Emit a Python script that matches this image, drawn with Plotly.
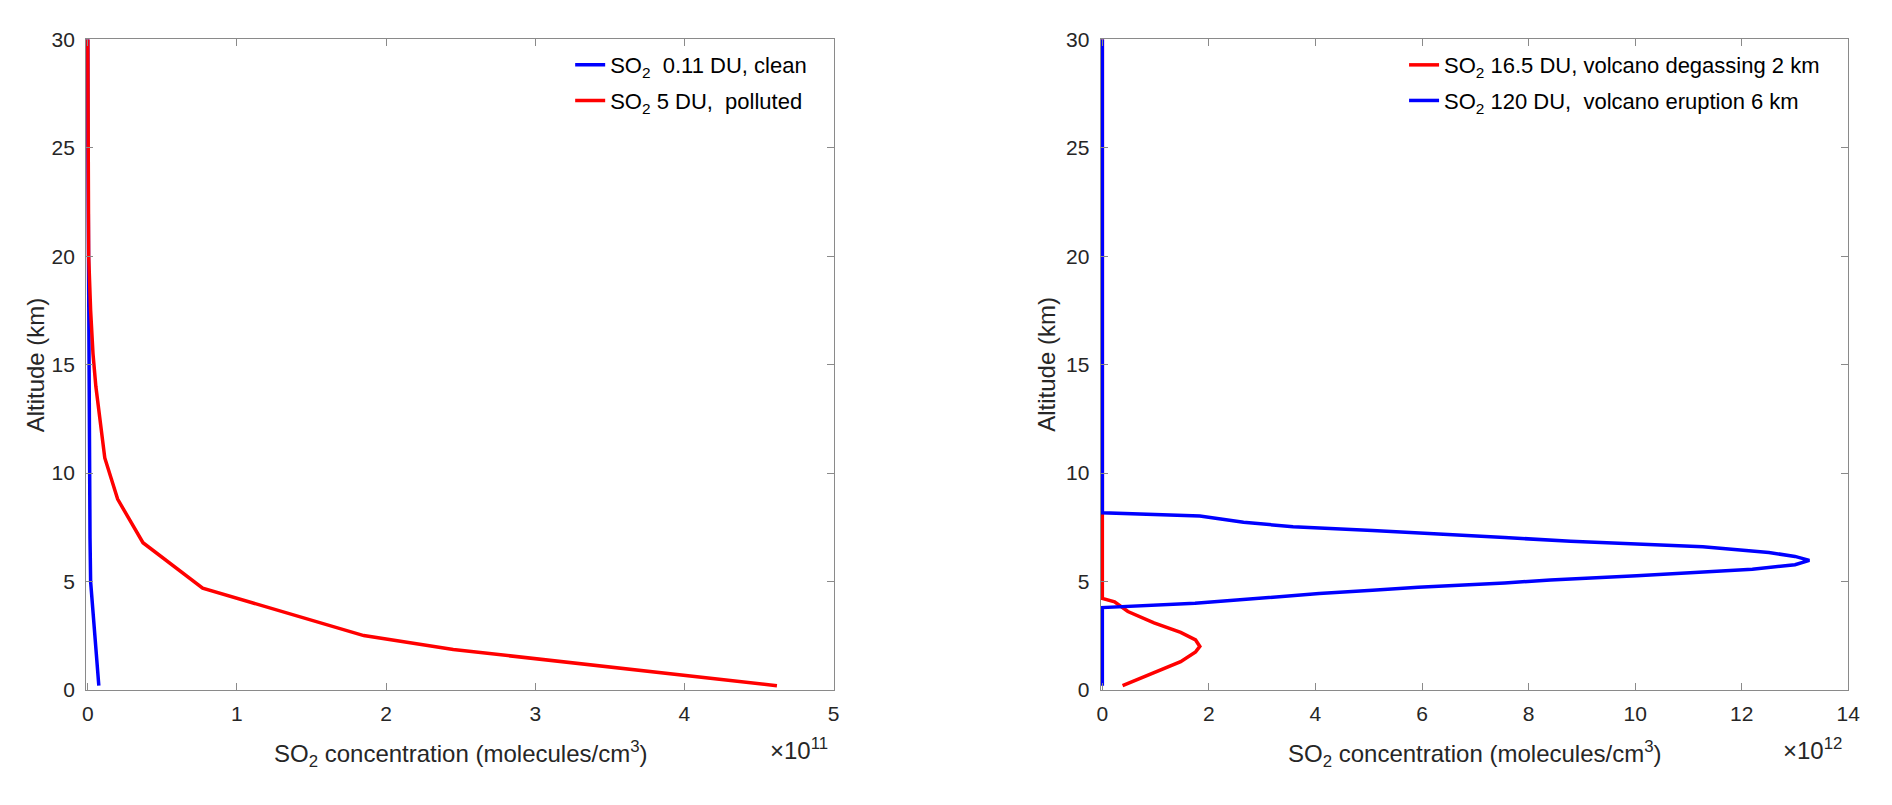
import plotly.graph_objects as go

# left panel: background profiles (x in 1e11 molecules/cm3, altitude km)
alt_clean = [0.2, 2.5, 5, 7, 10, 15, 20, 25, 30]
conc_clean = [0.074, 0.048, 0.019, 0.015, 0.012, 0.005, 0.002, 0.001, 0.0]

alt_polluted = [0.2, 1.87, 2.51, 4.7, 6.79, 8.8, 10.7, 12.4, 14, 15.5, 17.5, 20, 25, 30]
conc_polluted = [4.62, 2.45, 1.85, 0.77, 0.37, 0.20, 0.114, 0.081, 0.054, 0.035, 0.019, 0.006, 0.002, 0.0]

# right panel: volcanic profiles (x in 1e12 molecules/cm3)
alt_degas = [0.2, 0.79, 1.31, 1.76, 2.01, 2.31, 2.66, 3.1, 3.62, 4.07, 4.22, 10, 20, 30]
conc_degas = [0.38, 0.97, 1.47, 1.75, 1.83, 1.75, 1.47, 0.97, 0.48, 0.23, 0.0, 0.0, 0.0, 0.0]

alt_erupt = [0.2, 3.8, 4.0, 4.22, 4.45, 4.6, 4.74, 4.94, 5.07, 5.27, 5.57, 5.78, 5.98,
             6.16, 6.34, 6.61, 6.74, 6.86, 7.03, 7.2, 7.36, 7.53, 7.73, 8.02, 8.17, 30]
conc_erupt = [0.0, 0.0, 1.74, 2.83, 4.07, 5.07, 5.93, 7.55, 8.41, 10.03, 12.2, 13.0, 13.27,
              13.0, 12.51, 11.27, 10.0, 8.79, 7.55, 6.31, 5.07, 3.58, 2.65, 1.83, 0.0, 0.0]

left_ticks = [0, 1, 2, 3, 4, 5]
right_ticks = [0, 2, 4, 6, 8, 10, 12, 14]
alt_ticks = [0, 5, 10, 15, 20, 25, 30]

W, H = 1892, 805
FONT = "Liberation Sans, Arial, sans-serif"
TXT = "#262626"
FRAME = "#8a8a8a"
BLUE = "#0000ff"
RED = "#ff0000"

fig = go.Figure()
fig.add_trace(go.Scatter(x=conc_clean, y=alt_clean, mode="lines",
                         line=dict(color=BLUE, width=3.5), legendgroup="a",
                         name="SO<sub>2</sub>  0.11 DU, clean", legend="legend"))
fig.add_trace(go.Scatter(x=conc_polluted, y=alt_polluted, mode="lines",
                         line=dict(color=RED, width=3.5), legendgroup="b",
                         name="SO<sub>2</sub> 5 DU,  polluted", legend="legend"))
fig.add_trace(go.Scatter(x=conc_degas, y=alt_degas, mode="lines",
                         line=dict(color=RED, width=3.5), xaxis="x2", yaxis="y2",
                         legendgroup="c",
                         name="SO<sub>2</sub> 16.5 DU, volcano degassing 2 km", legend="legend2"))
fig.add_trace(go.Scatter(x=conc_erupt, y=alt_erupt, mode="lines",
                         line=dict(color=BLUE, width=3.5), xaxis="x2", yaxis="y2",
                         legendgroup="d",
                         name="SO<sub>2</sub> 120 DU,  volcano eruption 6 km", legend="legend2"))

# plot frames in pixels; half a line width of room left of x=0 so the
# vertical segments on the axis are not clipped
pad = 1.75
lx0, lx1 = 84.5, 836.7
rx0, rx1 = 1107.7, 1860.0
top, bot = 28.0, 698.0
lpx = (lx1 - lx0) / 5
rpx = (rx1 - rx0) / 14

axis_style = dict(showline=True, linecolor=FRAME, linewidth=1, mirror="ticks",
                  ticks="inside", ticklen=7, tickcolor=FRAME, showgrid=False,
                  zeroline=False, tickfont=dict(size=21, color=TXT, family=FONT))

fig.update_layout(
    width=W, height=H,
    margin=dict(l=0, r=0, t=0, b=0),
    plot_bgcolor="white", paper_bgcolor="white",
    font=dict(family=FONT, size=21, color=TXT),
    xaxis=dict(domain=[(lx0 - pad) / W, lx1 / W], range=[-pad / lpx, 5],
               tickvals=left_ticks, ticklabelstandoff=5, **axis_style),
    yaxis=dict(domain=[1 - bot / H, 1 - top / H], range=[0, 30],
               tickvals=alt_ticks, anchor="x", ticklabelstandoff=6, **axis_style),
    xaxis2=dict(domain=[(rx0 - pad) / W, rx1 / W], range=[-pad / rpx, 14],
                tickvals=right_ticks, anchor="y2", ticklabelstandoff=5, **axis_style),
    yaxis2=dict(domain=[1 - bot / H, 1 - top / H], range=[0, 30],
                tickvals=alt_ticks, anchor="x2", ticklabelstandoff=6, **axis_style),
    legend=dict(x=571 / W, y=1 - 33 / H, xanchor="left", yanchor="top",
                bgcolor="rgba(0,0,0,0)", font=dict(size=22, color="#000000"),
                itemwidth=30, tracegroupgap=4),
    legend2=dict(x=1412 / W, y=1 - 33 / H, xanchor="left", yanchor="top",
                 bgcolor="rgba(0,0,0,0)", font=dict(size=22, color="#000000"),
                 itemwidth=30, tracegroupgap=4),
)

xlabel = "SO<sub>2</sub> concentration (molecules/cm<sup>3</sup>)"
notes = [
    dict(x=(lx0 + lx1) / 2 / W, y=1 - 764 / H, text=xlabel),
    dict(x=(rx0 + rx1) / 2 / W, y=1 - 764 / H, text=xlabel),
    dict(x=833 / W, y=1 - 759 / H, text="\u00d710<sup>11</sup>", xanchor="right"),
    dict(x=1856 / W, y=1 - 759 / H, text="\u00d710<sup>12</sup>", xanchor="right"),
    dict(x=32 / W, y=1 - (top + bot) / 2 / H, text="Altitude (km)", textangle=-90),
    dict(x=1052 / W, y=1 - (top + bot) / 2 / H, text="Altitude (km)", textangle=-90),
]
for n in notes:
    fig.add_annotation(xref="paper", yref="paper", showarrow=False,
                       xanchor=n.get("xanchor", "center"), yanchor="middle",
                       font=dict(size=24, color=TXT, family=FONT),
                       **{k: v for k, v in n.items() if k != "xanchor"})

fig.write_html("out.html", config={"displayModeBar": False},
               post_script="document.body.style.margin='0';document.body.style.overflow='hidden';")
